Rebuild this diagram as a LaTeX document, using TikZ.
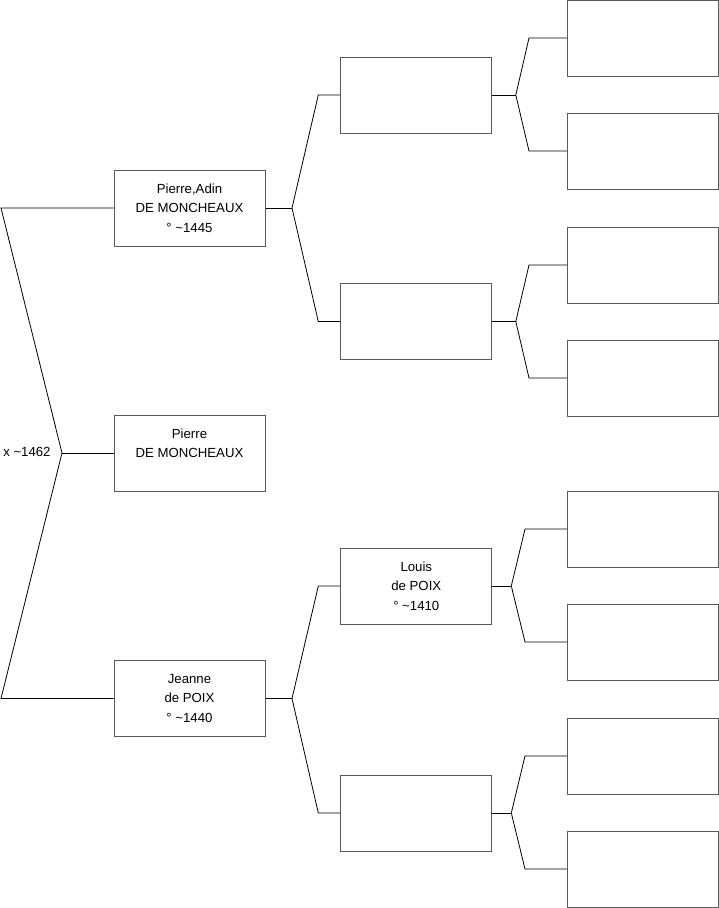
\documentclass[tikz,border=0pt]{standalone}
\usepackage{fontspec}
\setmainfont{Liberation Sans}
\usetikzlibrary{positioning}
\definecolor{boxgray}{HTML}{5A5A5A}

\begin{document}
\begin{tikzpicture}[x=1pt, y=-1pt, line width=0.8pt,
    person/.style={draw=boxgray, line width=1pt, minimum width=151pt, minimum height=76pt,
                   inner sep=0pt, align=center, font=\fontsize{13.2}{19.5}\selectfont},
    link/.style={draw=black, line width=0.8pt}]
    \useasboundingbox (0,0) rectangle (719,908);
    % generation 1
    \node[person] (adin) at (189.5,208) {Pierre,Adin\\DE MONCHEAUX\\° \textasciitilde1445};
    \node[person] (pierre) at (189.5,453) {Pierre\\DE MONCHEAUX\\[-6pt]\strut};
    \node[person] (jeanne) at (189.5,698.5) {Jeanne\\de POIX\\° \textasciitilde1440};
    % generation 2
    \node[person] (f1) at (416.3,95) {};
    \node[person] (f2) at (416.3,321.5) {};
    \node[person] (louis) at (416.3,586) {Louis\\de POIX\\° \textasciitilde1410};
    \node[person] (f4) at (416.3,813) {};
    % generation 3
    \foreach \y [count=\i] in {38,151,265,378,529,642,756,869}
      \node[person] (g\i) at (643,\y) {};
    % marriage
    \coordinate (fork) at (62,453);
    \coordinate (tl) at (1,208);
    \coordinate (bl) at (1,698.5);
    \node[anchor=east, inner sep=0pt, font=\fontsize{13.2}{19.5}\selectfont] (wed) at (51,452) {x \textasciitilde1462};
    \draw[link] (adin.west) -- (tl) -- (fork) -- (bl) -- (jeanne.west);
    \draw[link] (fork) -- (pierre.west);
    % parents
    \foreach \p/\a/\b/\dj/\db in {adin/f1/f2/26.5/22, jeanne/louis/f4/26.5/22,
                                  f1/g1/g2/23.5/38, f2/g3/g4/23.5/38,
                                  louis/g5/g6/19/42, f4/g7/g8/19/42} {
      \draw[link] (\p.east) -- ++(\dj,0) coordinate (j\p);
      \draw[link] (\a.west) -- ++(-\db,0) -- (j\p);
      \draw[link] (\b.west) -- ++(-\db,0) -- (j\p);
    }
\end{tikzpicture}
\end{document}
